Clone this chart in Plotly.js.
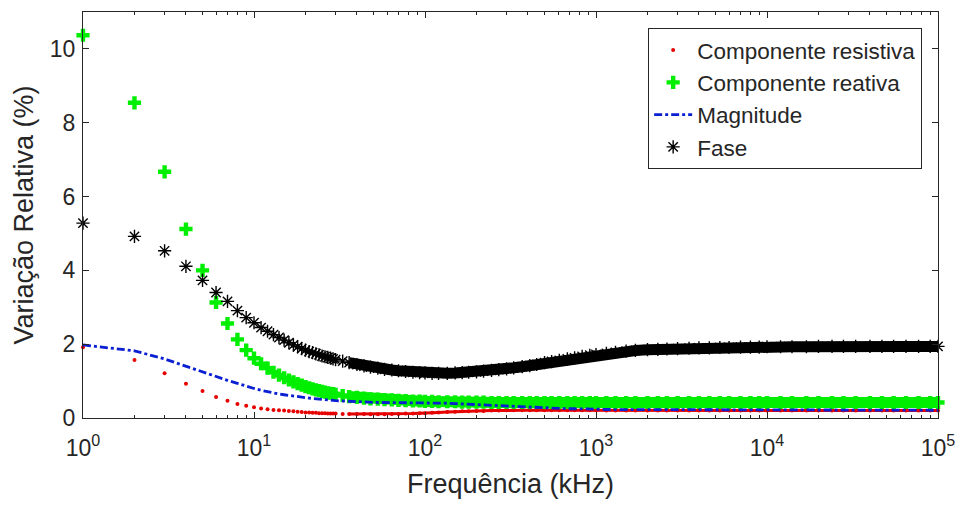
<!DOCTYPE html>
<html>
<head>
<meta charset="utf-8">
<script src="https://cdn.plot.ly/plotly-3.0.1.min.js"></script>
<style>html,body{margin:0;padding:0;background:#fff;}#chart{width:959px;height:506px;}</style>
</head>
<body>
<div id="chart"></div>
<script>
// Frequency (kHz)
const freq = [1,2,3,4,5,6,7,8,9,10,11,12,13,14,15,16,17,18,19,20,21,22,23,24,25,26,27,28,29,30,
  33,36,40,44,48,53,58,64,70,77,85,93,100,
  110,120,135,150,165,180,200,220,245,270,300,330,370,410,450,500,550,610,680,750,830,920,1000,
  1150,1300,1500,1700,2000,2300,2600,3000,3500,4000,4600,5300,6000,7000,8000,9000,10000,
  12000,14000,17000,20000,24000,28000,33000,40000,47000,55000,65000,77000,90000,100000];

const resistiva = [1.92,1.57,1.21,0.93,0.73,0.57,0.47,0.38,0.33,0.29,0.26,0.24,0.22,0.21,0.20,0.19,0.18,0.17,0.16,0.15,0.15,0.14,0.14,0.13,0.13,0.13,0.12,0.12,0.12,0.12,
  0.11,0.11,0.11,0.11,0.10,0.10,0.10,0.11,0.11,0.12,0.12,0.13,0.13,
  0.14,0.15,0.16,0.17,0.18,0.18,0.19,0.19,0.20,0.20,0.21,0.21,0.21,0.21,0.21,0.21,0.21,0.21,0.21,0.21,0.21,0.21,0.21,
  0.20,0.20,0.20,0.20,0.20,0.20,0.20,0.20,0.20,0.20,0.20,0.20,0.20,0.20,0.20,0.20,0.20,
  0.20,0.20,0.20,0.20,0.20,0.20,0.20,0.20,0.20,0.20,0.20,0.20,0.20,0.20];

const reativa = [10.37,8.54,6.67,5.12,4.00,3.13,2.56,2.13,1.84,1.62,1.47,1.35,1.24,1.16,1.09,1.03,0.98,0.93,0.89,0.85,0.82,0.79,0.76,0.74,0.72,0.70,0.68,0.67,0.66,0.64,
  0.61,0.58,0.56,0.54,0.52,0.51,0.50,0.49,0.48,0.47,0.46,0.46,0.45,
  0.45,0.44,0.44,0.44,0.43,0.43,0.43,0.43,0.42,0.42,0.42,0.42,0.42,0.42,0.42,0.42,0.42,0.42,0.42,0.42,0.42,0.42,0.42,
  0.42,0.42,0.42,0.42,0.42,0.42,0.42,0.42,0.42,0.42,0.42,0.42,0.42,0.42,0.42,0.42,0.42,
  0.42,0.42,0.42,0.42,0.42,0.42,0.42,0.42,0.42,0.42,0.42,0.42,0.42,0.42];

const magnitude = [1.98,1.82,1.60,1.40,1.24,1.12,1.02,0.94,0.86,0.80,0.75,0.71,0.68,0.65,0.63,0.61,0.59,0.57,0.56,0.55,0.54,0.53,0.52,0.51,0.50,0.49,0.48,0.48,0.47,0.47,
  0.46,0.45,0.44,0.43,0.43,0.42,0.42,0.42,0.42,0.42,0.42,0.42,0.42,
  0.41,0.41,0.40,0.39,0.38,0.37,0.36,0.35,0.34,0.33,0.32,0.31,0.30,0.29,0.28,0.27,0.26,0.26,0.25,0.25,0.24,0.24,0.24,
  0.23,0.23,0.22,0.22,0.22,0.22,0.22,0.21,0.21,0.21,0.21,0.21,0.21,0.21,0.21,0.21,0.21,
  0.21,0.21,0.21,0.21,0.21,0.21,0.21,0.21,0.21,0.21,0.21,0.21,0.21,0.21];

const fase = [5.28,4.92,4.53,4.11,3.73,3.40,3.16,2.91,2.72,2.58,2.45,2.35,2.26,2.18,2.11,2.04,1.98,1.93,1.88,1.84,1.80,1.77,1.74,1.71,1.68,1.66,1.64,1.62,1.60,1.58,
  1.54,1.50,1.45,1.41,1.38,1.35,1.32,1.30,1.28,1.26,1.24,1.23,1.22,
  1.21,1.21,1.21,1.22,1.23,1.24,1.25,1.27,1.29,1.31,1.33,1.36,1.39,1.42,1.45,1.50,1.53,1.56,1.60,1.63,1.67,1.70,1.72,
  1.75,1.78,1.81,1.83,1.85,1.86,1.87,1.88,1.89,1.90,1.90,1.91,1.91,1.92,1.92,1.92,1.93,
  1.93,1.93,1.93,1.94,1.94,1.94,1.94,1.94,1.94,1.94,1.94,1.94,1.94,1.94];

const names = ['Componente resistiva','Componente reativa','Magnitude','Fase'];
const xTickVals = [1,10,100,1000,10000,100000];
const xTickText = ['10<sup>0</sup>','10<sup>1</sup>','10<sup>2</sup>','10<sup>3</sup>','10<sup>4</sup>','10<sup>5</sup>'];
const yTickVals = [0,2,4,6,8,10];

// dense region (markers merge into a band)
const denseFrom = 36;
const idx = freq.map((f,i)=>f>=denseFrom ? i : -1).filter(i=>i>=0);
const sub = (arr)=>idx.map(i=>arr[i]);

const minorVals = [];
for (let d = 1; d < 100000; d *= 10) for (let k = 2; k <= 9; k++) minorVals.push(d*k);

const axColor = '#262626';
const traces = [
  {x: sub(freq), y: sub(resistiva), mode:'lines', line:{color:'#e60000', width:3}, showlegend:false, hoverinfo:'skip'},
  {x: freq, y: resistiva, name: names[0], mode:'markers', cliponaxis:false, marker:{symbol:'circle', size:4, color:'#e60000'}},
  {x: sub(freq), y: sub(reativa), mode:'lines', line:{color:'#00ee00', width:11}, showlegend:false, hoverinfo:'skip'},
  {x: freq, y: reativa, name: names[1], mode:'markers', cliponaxis:false, marker:{symbol:'cross', size:11, color:'#00ee00'}},
  {x: freq, y: magnitude, name: names[2], mode:'lines', line:{color:'#0a1ed2', width:2.8, dash:'8px,3px,3px,3px'}},
  {x: sub(freq), y: sub(fase), mode:'lines', line:{color:'#000000', width:11}, showlegend:false, hoverinfo:'skip'},
  {x: freq, y: fase, name: names[3], mode:'markers', cliponaxis:false, marker:{symbol:'asterisk-open', size:11, color:'#000000', line:{color:'#000000', width:1.4}}}
];

const layout = {
  width: 959, height: 506,
  margin: {l:83, r:21, t:12, b:88},
  paper_bgcolor:'#ffffff', plot_bgcolor:'#ffffff',
  font: {family:'Liberation Sans, Arial, sans-serif', color: axColor},
  xaxis: {
    type:'log', range:[0,5],
    tickmode:'array', tickvals: xTickVals, ticktext: xTickText,
    ticks:'inside', ticklen:6, tickcolor: axColor, tickwidth:1,
    ticklabelstandoff: 9,
    minor: {tickmode:'array', tickvals: minorVals, ticks:'inside', ticklen:3, tickcolor: axColor, showgrid:false},
    showline:true, linecolor: axColor, linewidth:1, mirror:'ticks',
    showgrid:false, zeroline:false,
    tickfont:{size:23, color:axColor},
    title:{text:'Frequência (kHz)', font:{size:27, color:axColor}, standoff:14}
  },
  yaxis: {
    range:[0,11], tickmode:'array', tickvals: yTickVals,
    ticks:'inside', ticklen:6, tickcolor: axColor, tickwidth:1,
    ticklabelstandoff: 2,
    showline:true, linecolor: axColor, linewidth:1, mirror:'ticks',
    showgrid:false, zeroline:false,
    tickfont:{size:23, color:axColor},
    title:{text:'Variação Relativa (%)', font:{size:27, color:axColor}, standoff:8}
  },
  legend: {
    x:0.661, y:0.9606, xanchor:'left', yanchor:'top',
    bgcolor:'#ffffff', bordercolor: axColor, borderwidth:1,
    font:{size:22.5, color:axColor}, tracegroupgap:0, itemwidth:38
  },
  showlegend:true
};

Plotly.newPlot('chart', traces, layout, {displayModeBar:false, staticPlot:true});
</script>
</body>
</html>
